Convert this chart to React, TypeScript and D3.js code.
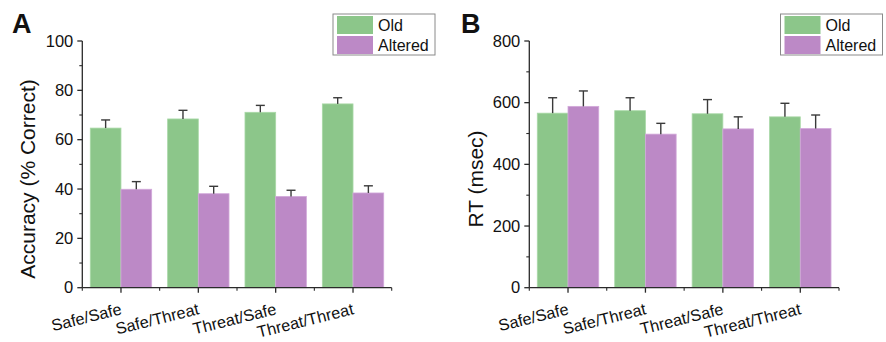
import React from 'react';
import * as d3 from 'd3';

const categories = ['Safe/Safe', 'Safe/Threat', 'Threat/Safe', 'Threat/Threat'];
const seriesNames = ['Old', 'Altered'];

const accuracyOld = [64.7, 68.4, 71.1, 74.5];
const accuracyOldErr = [3.3, 3.5, 2.8, 2.5];
const accuracyAltered = [39.9, 38.1, 37.0, 38.4];
const accuracyAlteredErr = [3.1, 3.0, 2.5, 2.9];

const rtOld = [566, 574, 564, 554];
const rtOldErr = [50, 42, 46, 44];
const rtAltered = [588, 498, 515, 516];
const rtAlteredErr = [50, 35, 39, 44];

const colors = ['#8CC68A', '#BC89C6'];
const strokes = ['#A9D9A7', '#D2A8DA'];
const FONT = '"Liberation Sans", Arial, sans-serif';

type PanelProps = {
  letter: string;
  letterX: number;
  left: number;
  right: number;
  yMax: number;
  yTitle: string;
  titleX: number;
  old: number[];
  oldErr: number[];
  altered: number[];
  alteredErr: number[];
  legendX: number;
};

const Panel = (p: PanelProps) => {
  const top = 41;
  const bottom = 287.7;
  const x = d3.scaleBand().domain(categories).range([p.left, p.right]).padding(0);
  const xs = d3.scaleBand().domain(seriesNames).range([0, x.bandwidth()]).paddingInner(0).paddingOuter(0.26);
  const y = d3.scaleLinear().domain([0, p.yMax]).range([bottom, top]);
  const major = y.ticks(5);
  const minor = y.ticks(10).filter(t => !major.includes(t));
  const series = [
    { vals: p.old, errs: p.oldErr },
    { vals: p.altered, errs: p.alteredErr },
  ];
  const bounds = [...categories.map(c => x(c) as number), p.right];
  const axisColor = '#2a2a2a';

  return (
    <g fontFamily={FONT}>
      <text x={p.letterX} y={32.5} fontSize={27} fontWeight="bold" fill="#111">{p.letter}</text>
      {series.map((s, si) => (
        <g key={si}>
          {categories.map((c, i) => {
            const bx = (x(c) as number) + (xs(seriesNames[si]) as number);
            const bw = xs.bandwidth();
            return (
              <rect key={c} x={bx} y={y(s.vals[i])} width={bw} height={y(0) - y(s.vals[i])}
                fill={colors[si]} stroke={strokes[si]} strokeWidth={0.8} />
            );
          })}
        </g>
      ))}
      {series.map((s, si) => (
        <g key={'e' + si} stroke="#3a3a3a" strokeWidth={1.4}>
          {categories.map((c, i) => {
            const cx = (x(c) as number) + (xs(seriesNames[si]) as number) + xs.bandwidth() / 2;
            const yt = y(s.vals[i] + s.errs[i]);
            return (
              <g key={c}>
                <line x1={cx} x2={cx} y1={y(s.vals[i])} y2={yt} />
                <line x1={cx - 4.5} x2={cx + 4.5} y1={yt} y2={yt} />
              </g>
            );
          })}
        </g>
      ))}
      {/* y axis */}
      <line x1={p.left} x2={p.left} y1={top} y2={bottom} stroke={axisColor} strokeWidth={1.3} />
      {major.map(t => (
        <g key={t}>
          <line x1={p.left - 5} x2={p.left} y1={y(t)} y2={y(t)} stroke={axisColor} strokeWidth={1.3} />
          <text x={p.left - 9} y={y(t)} dy="0.35em" textAnchor="end" fontSize={16.5} fill="#111">{t}</text>
        </g>
      ))}
      {minor.map(t => (
        <line key={t} x1={p.left - 3} x2={p.left} y1={y(t)} y2={y(t)} stroke={axisColor} strokeWidth={1.1} />
      ))}
      <text transform={`translate(${p.titleX},179) rotate(-90)`} textAnchor="middle"
        fontSize={21} fill="#111">{p.yTitle}</text>
      {/* x axis */}
      <line x1={p.left} x2={p.right} y1={bottom} y2={bottom} stroke={axisColor} strokeWidth={1.3} />
      {bounds.map((b, i) => (
        <line key={i} x1={b} x2={b} y1={bottom} y2={bottom + 3} stroke={axisColor} strokeWidth={1.1} />
      ))}
      {categories.map(c => {
        const cx = (x(c) as number) + x.bandwidth() / 2;
        return (
          <g key={c}>
            <line x1={cx} x2={cx} y1={bottom} y2={bottom + 5} stroke={axisColor} strokeWidth={1.3} />
            <text transform={`translate(${cx + 1.5},314) rotate(-14)`} textAnchor="end" fontSize={16.3} fill="#111">{c}</text>
          </g>
        );
      })}
      {/* legend */}
      <g transform={`translate(${p.legendX},14)`}>
        <rect x={0} y={0} width={102} height={41} fill="#fff" stroke="#8a8a8a" strokeWidth={1} />
        {seriesNames.map((n, i) => (
          <g key={n} transform={`translate(4,${2 + i * 20})`}>
            <rect x={0} y={0} width={36} height={18} fill={colors[i]} />
            <text x={41} y={9} dy="0.36em" fontSize={16} fill="#111">{n}</text>
          </g>
        ))}
      </g>
    </g>
  );
};

export default function App() {
  return (
    <svg width={886} height={342} style={{ position: 'absolute', left: 0, top: 0, background: '#fff' }}>
      <Panel letter="A" letterX={12} left={82.3} right={391.7} yMax={100} yTitle="Accuracy (% Correct)"
        titleX={35} old={accuracyOld} oldErr={accuracyOldErr} altered={accuracyAltered}
        alteredErr={accuracyAlteredErr} legendX={333} />
      <Panel letter="B" letterX={461} left={529.3} right={839} yMax={800} yTitle="RT (msec)"
        titleX={483} old={rtOld} oldErr={rtOldErr} altered={rtAltered}
        alteredErr={rtAlteredErr} legendX={780.5} />
    </svg>
  );
}
